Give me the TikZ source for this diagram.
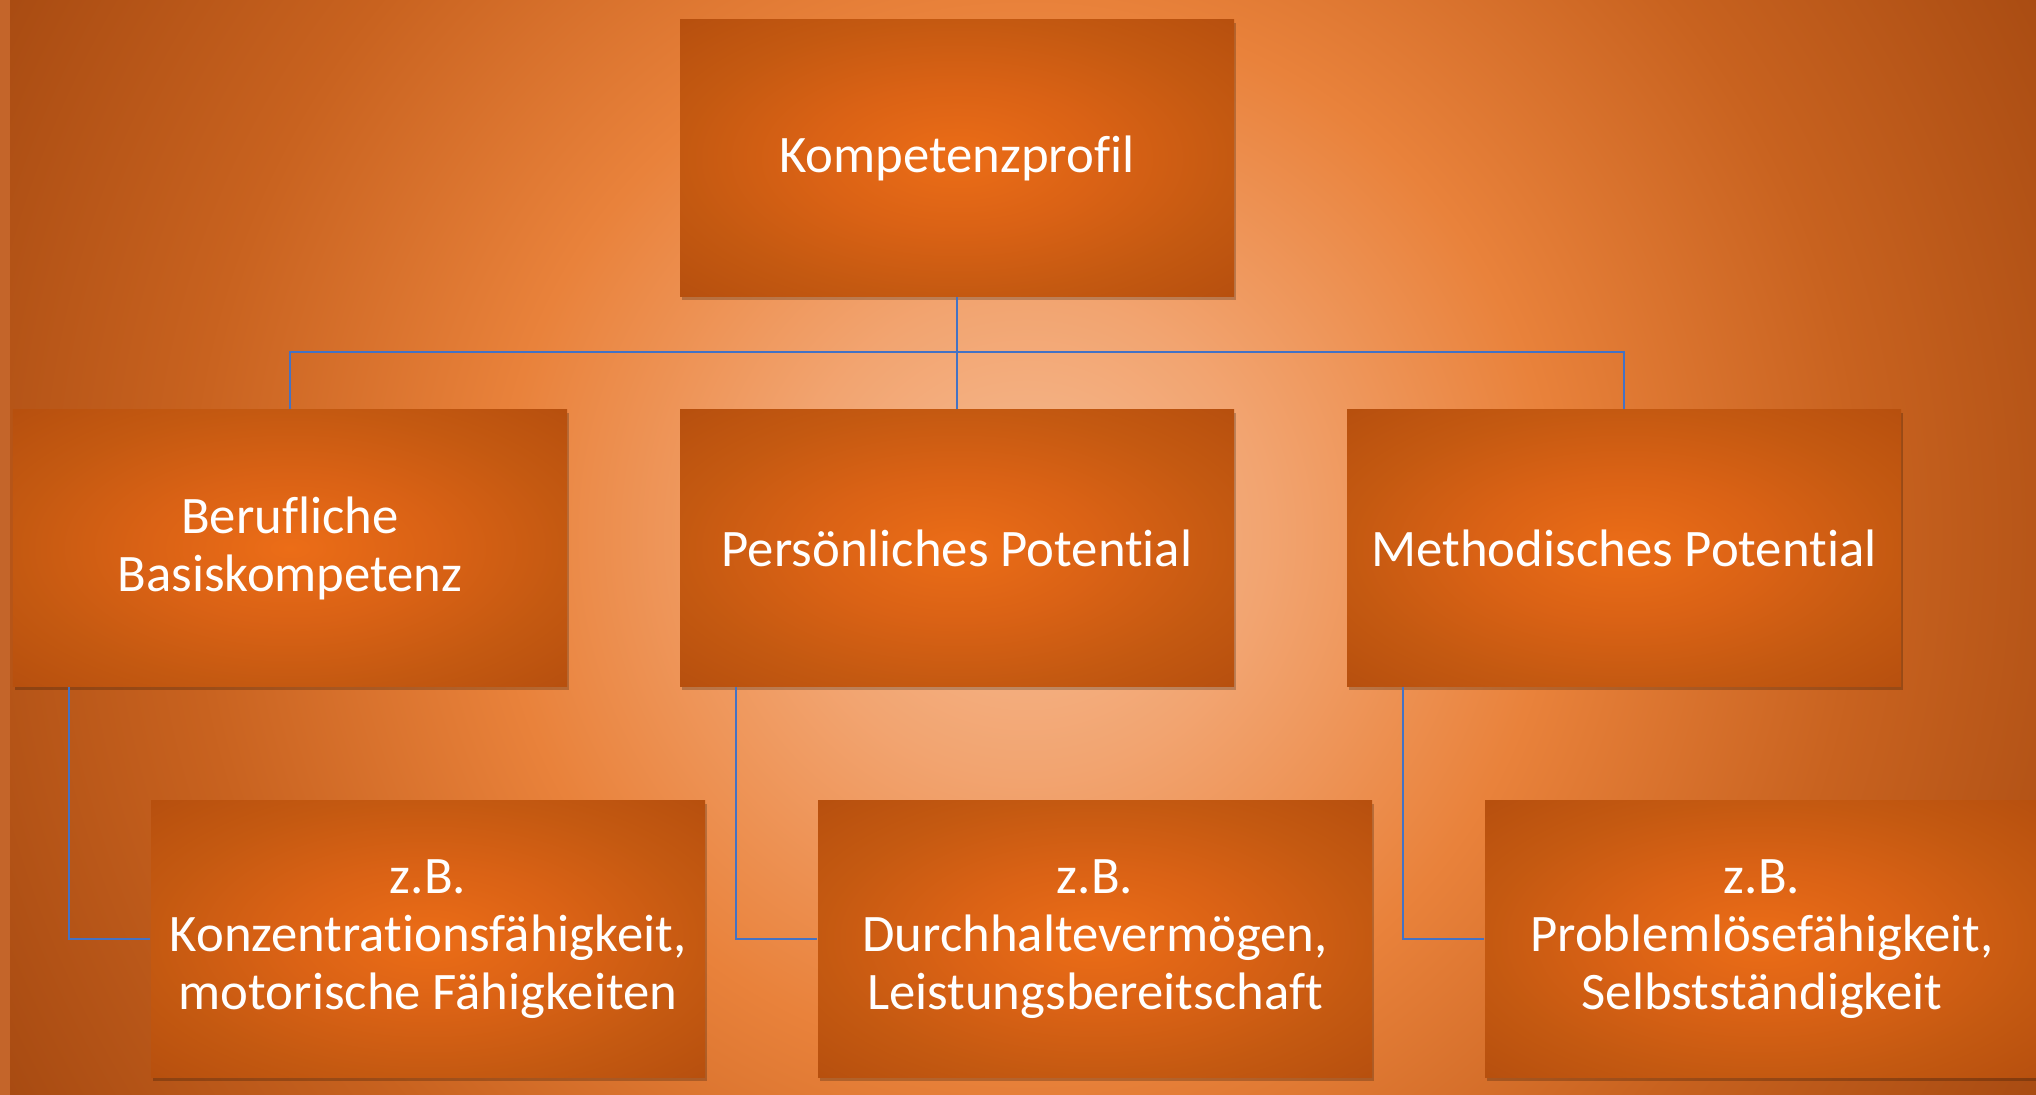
\documentclass[tikz,border=0pt]{standalone}
\usepackage{fontspec}
\setmainfont{Carlito}[Ligatures=NoCommon]
\usetikzlibrary{shadows}

\definecolor{bgmid}{HTML}{F5BC93}
\definecolor{bgin}{HTML}{F2A470}
\definecolor{bgring}{HTML}{E9823B}
\definecolor{bgout}{HTML}{C8621F}
\definecolor{bgedge}{HTML}{A44810}
\definecolor{bgside}{HTML}{C4652A}
\definecolor{boxmid}{HTML}{EC6D17}
\definecolor{boxring}{HTML}{DA6215}
\definecolor{boxedge}{HTML}{C45911}
\definecolor{boxcorner}{HTML}{B64F0E}
\definecolor{linkblue}{HTML}{4472C4}

\pgfdeclareradialshading{bgglow}{\pgfpoint{0bp}{0bp}}{color(0bp)=(bgmid); color(5bp)=(bgin); color(11bp)=(bgring); color(17.5bp)=(bgout); color(25bp)=(bgedge); color(50bp)=(bgedge)}
\pgfdeclareradialshading{boxglow}{\pgfpoint{0bp}{0bp}}{color(0bp)=(boxmid); color(13bp)=(boxring); color(25bp)=(boxedge); color(36bp)=(boxcorner); color(50bp)=(boxcorner)}

\tikzset{
    kbox/.style={shade, shading=boxglow, minimum width=5.54cm, minimum height=2.77cm,
        inner sep=0pt, align=center, text=white, font=\fontsize{15}{16.5}\selectfont,
        drop shadow={shadow xshift=0.02cm, shadow yshift=-0.04cm, opacity=0.22, fill=black}},
    link/.style={draw=linkblue, line width=0.6pt}
}

\begin{document}
\begin{tikzpicture}
    \useasboundingbox (0,0) rectangle (20.36,10.95);
    \fill[bgside] (0,0) rectangle (0.10,10.95);
    \begin{scope}
        \clip (0.10,0) rectangle (20.36,10.94);
        \shade[shading=bgglow] (10.26,5.6) circle (12cm);
    \end{scope}

    \node[kbox] (top) at (9.57,9.37) {Kompetenzprofil};
    \node[kbox] (mid1) at (2.90,5.47) {Berufliche\\Basiskompetenz};
    \node[kbox] (mid2) at (9.57,5.47) {Persönliches Potential};
    \node[kbox] (mid3) at (16.24,5.47) {Methodisches Potential};
    \node[kbox] (sub1) at (4.28,1.56) {z.B.\\Konzentrationsfähigkeit,\\motorische Fähigkeiten};
    \node[kbox] (sub2) at (10.95,1.56) {z.B.\\Durchhaltevermögen,\\Leistungsbereitschaft};
    \node[kbox] (sub3) at (17.62,1.56) {z.B.\\Problemlösefähigkeit,\\Selbstständigkeit};

    \coordinate (fork) at (9.57,7.43);
    \draw[link] (top.south) -- (mid2.north);
    \draw[link] (mid1.north) |- (fork) -| (mid3.north);
    \draw[link] ([xshift=0.57cm]mid1.south west) |- (sub1.west);
    \draw[link] ([xshift=0.57cm]mid2.south west) |- (sub2.west);
    \draw[link] ([xshift=0.57cm]mid3.south west) |- (sub3.west);
\end{tikzpicture}
\end{document}
